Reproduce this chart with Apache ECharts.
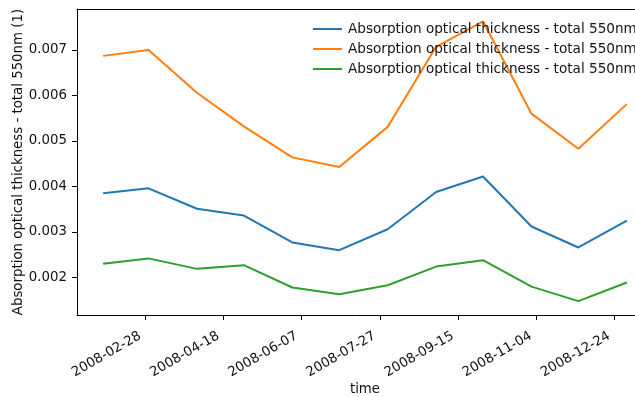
<!DOCTYPE html>
<html>
<head>
<meta charset="utf-8">
<script src="https://cdn.jsdelivr.net/npm/echarts@6/dist/echarts.min.js"></script>
<style>
html,body{margin:0;padding:0;background:#fff;}
#c{width:635px;height:397px;}
</style>
</head>
<body>
<div id="c"></div>
<script>
const dates = ['2008-02-01','2008-03-01','2008-04-01','2008-05-01','2008-06-01','2008-07-01','2008-08-01','2008-09-01','2008-10-01','2008-11-01','2008-12-01','2009-01-01'];
const seriesBlue   = [0.00385,0.00396,0.00351,0.00336,0.00277,0.00260,0.00306,0.00388,0.00422,0.00312,0.00266,0.00325];
const seriesOrange = [0.00687,0.00700,0.00606,0.00532,0.00464,0.00443,0.00531,0.00707,0.00763,0.00560,0.00483,0.00581];
const seriesGreen  = [0.00230,0.00242,0.00219,0.00227,0.00178,0.00163,0.00183,0.00224,0.00238,0.00180,0.00148,0.00189];
const xTickLabels = ['2008-02-28','2008-04-18','2008-06-07','2008-07-27','2008-09-15','2008-11-04','2008-12-24'];
const yTickLabels = ['0.002','0.003','0.004','0.005','0.006','0.007'];
const legendLabel = 'Absorption optical thickness - total 550nm';
const yAxisTitle = 'Absorption optical thickness - total 550nm (1)';
const xAxisTitle = 'time';

const ts = s => { const p = s.split('-').map(Number); return Date.UTC(p[0], p[1]-1, p[2]); };
const xs = dates.map(ts);
const span = xs[xs.length-1] - xs[0];
const xMin = xs[0] - 0.05*span, xMax = xs[xs.length-1] + 0.05*span;
const font = 'DejaVu Sans';
const fs = 13.33;
const txt = '#111';
const colors = ['#1f77b4','#ff7f0e','#2ca02c'];
const names = [legendLabel, legendLabel + '\u200b', legendLabel + '\u200b\u200b'];
const mk = (vals, i) => ({
  name: names[i], type: 'line', data: vals.map((v,k)=>[xs[k], v]),
  showSymbol: false, symbol: 'none', lineStyle: {width: 2, color: colors[i]}, itemStyle:{color: colors[i]},
  animation: false
});
const chart = echarts.init(document.getElementById('c'), null, {renderer: 'canvas'});
chart.setOption({
  animation: false,
  grid: {left: 77, top: 9, width: 576, height: 306, containLabel: false, outerBoundsMode: 'none', show: false},
  legend: {
    orient: 'vertical', left: 308, top: 17, itemWidth: 29, itemHeight: 2, itemGap: 6,
    icon: 'rect', data: names,
    formatter: () => legendLabel,
    textStyle: {fontFamily: font, fontSize: 13.6, lineHeight: 14, color: txt, padding: [0,0,0,1]}
  },
  xAxis: [{
    type: 'value', min: xMin, max: xMax, scale: true,
    name: xAxisTitle, nameLocation: 'middle', nameGap: 68, nameMoveOverlap: false,
    nameTextStyle: {fontFamily: font, fontSize: fs, color: txt},
    axisLine: {show: true, onZero: false, lineStyle: {color: '#000', width: 1}},
    axisTick: {show: true, length: 5, lineStyle: {color: '#000'}, customValues: xTickLabels.map(ts)},
    axisLabel: {customValues: xTickLabels.map(ts), rotate: 30, fontFamily: font, fontSize: fs, color: txt, margin: 17,
      padding: [0, 6, 0, 0],
      formatter: v => new Date(v).toISOString().slice(0,10)},
    splitLine: {show: false}
  }, {
    type: 'value', position: 'top', min: xMin, max: xMax, scale: true,
    axisLine: {show: true, onZero: false, lineStyle: {color: '#000', width: 1}},
    axisTick: {show: false}, axisLabel: {show: false}, splitLine: {show: false}
  }],
  yAxis: {
    type: 'value', min: 0.001176, max: 0.0079, scale: true,
    name: yAxisTitle, nameLocation: 'middle', nameGap: 52, nameMoveOverlap: false,
    nameTextStyle: {fontFamily: font, fontSize: fs, color: txt},
    axisLine: {show: true, onZero: false, lineStyle: {color: '#000', width: 1}},
    axisTick: {show: true, length: 5, lineStyle: {color: '#000'}, customValues: yTickLabels.map(Number)},
    axisLabel: {customValues: yTickLabels.map(Number), fontFamily: font, fontSize: fs, color: txt, margin: 10,
      formatter: v => v.toFixed(3)},
    splitLine: {show: false}
  },
  series: [mk(seriesBlue,0), mk(seriesOrange,1), mk(seriesGreen,2)]
});
</script>
</body>
</html>
